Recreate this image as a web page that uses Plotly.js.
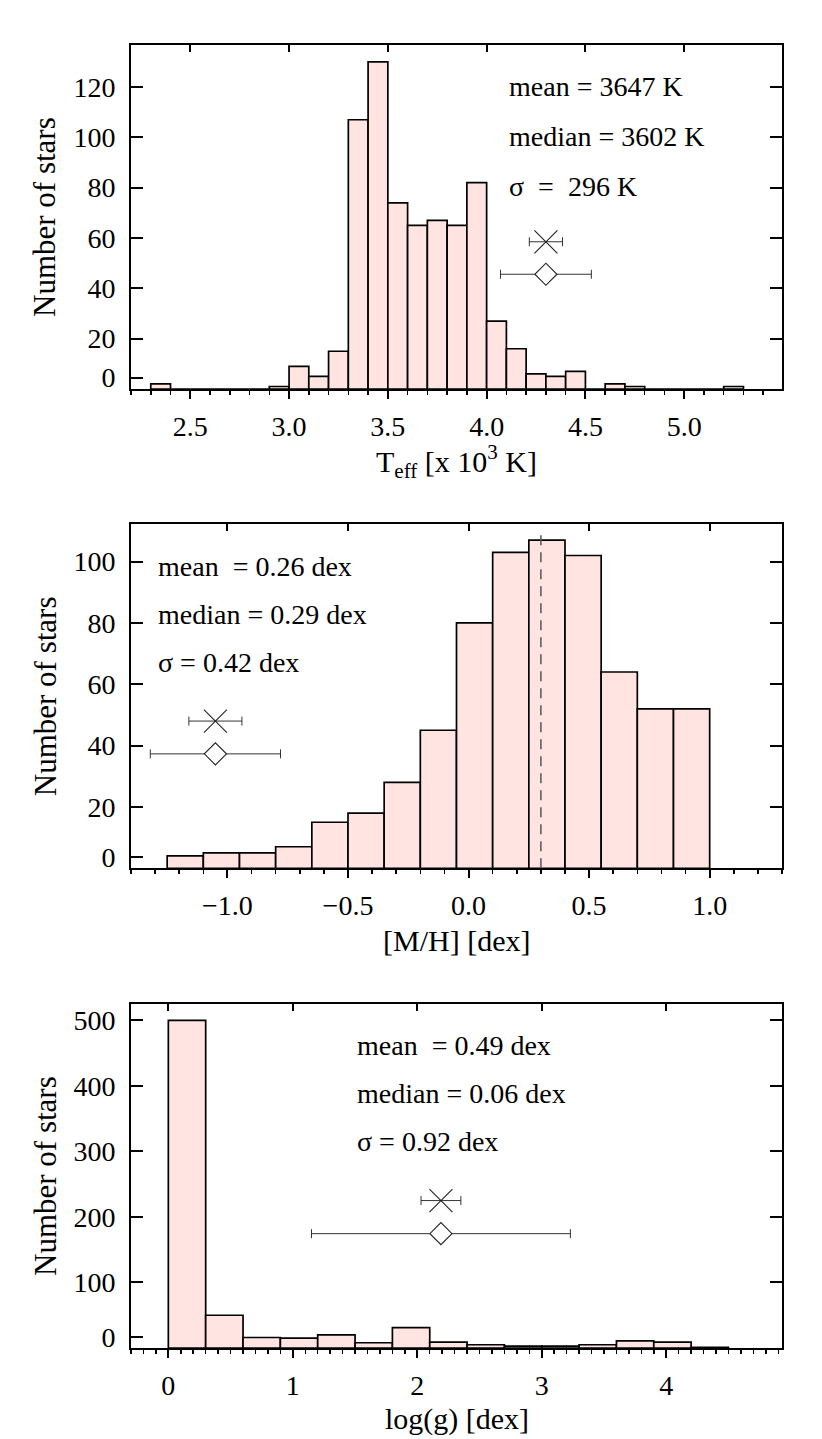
<!DOCTYPE html>
<html><head><meta charset="utf-8">
<script src="https://cdn.plot.ly/plotly-3.0.1.min.js"></script>
<style>html,body{margin:0;padding:0;background:#fff}#chart{width:822px;height:1439px}</style>
</head><body><div id="chart"></div>
<script>
// ---- Panel 1: Teff histogram (x 10^3 K), bin width 0.1 ----
const teffBinStart = [2.3,2.4,2.5,2.6,2.7,2.8,2.9,3.0,3.1,3.2,3.3,3.4,3.5,3.6,3.7,3.8,3.9,4.0,4.1,4.2,4.3,4.4,4.5,4.6,4.7,4.8,4.9,5.0,5.1,5.2];
const teffCounts   = [2,0,0,0,0,0,1,9,5,15,107,130,74,65,67,65,82,27,16,6,5,7,0,2,1,0,0,0,0,1];
const teffBinWidth = 0.1;
const teffStats = ["mean = 3647 K", "median = 3602 K", "\u03c3\u00a0\u00a0=\u00a0\u00a0296 K"];
const teffCross   = {x: 4.30, y: 58.5, err: 0.084};
const teffDiamond = {x: 4.30, y: 45.6, err: 0.23};

// ---- Panel 2: [M/H] histogram, bin width 0.15 ----
const mhBinStart = [-1.25,-1.10,-0.95,-0.80,-0.65,-0.50,-0.35,-0.20,-0.05,0.10,0.25,0.40,0.55,0.70,0.85];
const mhCounts   = [4,5,5,7,15,18,28,45,80,103,107,102,64,52,52];
const mhBinWidth = 0.15;
const mhStats = ["mean\u00a0\u00a0= 0.26 dex", "median = 0.29 dex", "\u03c3 = 0.42 dex"];
const mhCross   = {x: -1.05, y: 48.0, err: 0.11};
const mhDiamond = {x: -1.05, y: 37.3, err: 0.27};
const mhMedianLine = {x: 0.30, yTop: 110.5};

// ---- Panel 3: log(g) histogram, bin width 0.3 ----
const loggBinStart = [0.0,0.3,0.6,0.9,1.2,1.5,1.8,2.1,2.4,2.7,3.0,3.3,3.6,3.9,4.2];
const loggCounts   = [500,50,16,15,20,8,31,9,5,3,3,5,11,9,1];
const loggBinWidth = 0.3;
const loggStats = ["mean\u00a0\u00a0= 0.49 dex", "median = 0.06 dex", "\u03c3 = 0.92 dex"];
const loggCross   = {x: 2.19, y: 225, err: 0.16};
const loggDiamond = {x: 2.19, y: 174.5, err: 1.04};

// tick labels
const teffYTicks = [20,40,60,80,100,120];
const mhYTicks   = [20,40,60,80,100];
const loggYTicks = [100,200,300,400,500];

const FONT = "Liberation Serif, Times New Roman, serif";
const fill = "rgb(255,228,225)";

const panels = [
  {bins: teffBinStart, counts: teffCounts, w: teffBinWidth, cross: teffCross, dia: teffDiamond,
   stats: teffStats, yticks: teffYTicks, zeroPos: 4.5, xr: [2.2, 5.495], yr: [0, 136.7], dtick: 0.5,
   tickformat: ".1f", title: "T<sub>eff</sub> [x 10<sup>3</sup> K]", statX: 0.5776, statY: [0.879,0.734,0.589],
   titleY: -0.212, dom: [0.7360, 1.0]},
  {bins: mhBinStart, counts: mhCounts, w: mhBinWidth, cross: mhCross, dia: mhDiamond,
   stats: mhStats, yticks: mhYTicks, zeroPos: 3.6, xr: [-1.4, 1.3], yr: [0, 112.2], dtick: 0.5,
   tickformat: ".1f", title: "[M/H] [dex]", statX: 0.038, statY: [0.877,0.737,0.597],
   titleY: -0.210, dom: [0.3682, 0.6322]},
  {bins: loggBinStart, counts: loggCounts, w: loggBinWidth, cross: loggCross, dia: loggDiamond,
   stats: loggStats, yticks: loggYTicks, zeroPos: 17, xr: [-0.3, 4.93], yr: [0, 525], dtick: 1,
   tickformat: "d", title: "log(g) [dex]", statX: 0.344, statY: [0.880,0.739,0.600],
   titleY: -0.205, dom: [0.0, 0.2640]}
];

const data = [];
const layout = {
  width: 822, height: 1439,
  margin: {l: 131, r: 40, t: 45, b: 91},
  paper_bgcolor: "#fff", plot_bgcolor: "#fff",
  showlegend: false,
  font: {family: FONT, color: "#000", size: 28},
  annotations: [], shapes: []
};

panels.forEach((p, i) => {
  const n = i + 1;
  const xa = "x" + n, ya = "y" + n;
  const xk = "xaxis" + n, yk = "yaxis" + n;
  const xt = "x" + (n + 3), yr_ = "y" + (n + 3);
  const xtk = "xaxis" + (n + 3), yrk = "yaxis" + (n + 3);

  data.push({type: "bar", x: p.bins, y: p.counts, width: p.w, offset: 0,
    xaxis: xa, yaxis: ya, marker: {color: fill, line: {color: "#000", width: 1.7}},
    hoverinfo: "skip"});
  data.push({type: "scatter", mode: "markers", x: [p.cross.x], y: [p.cross.y], xaxis: xa, yaxis: ya,
    error_x: {type: "data", array: [p.cross.err], color: "#333", thickness: 1, width: 4.5},
    marker: {symbol: "x-thin", size: 23, color: "#222", line: {width: 1.1, color: "#222"}}, hoverinfo: "skip"});
  data.push({type: "scatter", mode: "markers", x: [p.dia.x], y: [p.dia.y], xaxis: xa, yaxis: ya,
    error_x: {type: "data", array: [p.dia.err], color: "#333", thickness: 1, width: 4.5},
    marker: {symbol: "diamond", size: 17, color: "#fff", line: {width: 1.1, color: "#222"}}, hoverinfo: "skip"});
  // empty traces so the mirror axes are drawn
  data.push({type: "scatter", x: [], y: [], xaxis: xt, yaxis: ya, hoverinfo: "skip"});
  data.push({type: "scatter", x: [], y: [], xaxis: xa, yaxis: yr_, hoverinfo: "skip"});

  const tf = {family: FONT, size: 28, color: "#000"};
  layout[xk] = {domain: [0, 1], anchor: ya, range: p.xr, autorange: false,
    showline: true, linewidth: 2, linecolor: "#000", mirror: false,
    ticks: "outside", ticklen: 8, tickwidth: 2, tickcolor: "#000",
    tick0: 0, dtick: p.dtick, tickformat: p.tickformat, tickfont: tf,
    minor: {ticks: "outside", ticklen: 4, tickwidth: 1.5, tickcolor: "#000", tick0: 0, dtick: 0.1, showgrid: false},
    showgrid: false, zeroline: false, ticklabelstandoff: 3};
  layout[xtk] = {overlaying: xa, side: "top", anchor: ya, range: p.xr, autorange: false,
    showline: true, linewidth: 2, linecolor: "#000",
    ticks: "inside", ticklen: 7, tickwidth: 2, tickcolor: "#000",
    tick0: 0, dtick: p.dtick, showticklabels: false, showgrid: false, zeroline: false};
  layout[yk] = {domain: p.dom, anchor: xa, range: p.yr, autorange: false,
    showline: true, linewidth: 2, linecolor: "#000", mirror: false,
    ticks: "inside", ticklen: 12, tickwidth: 2, tickcolor: "#000",
    tickmode: "array", tickvals: [p.zeroPos].concat(p.yticks),
    ticktext: ["0"].concat(p.yticks.map(String)), tickfont: tf,
    showgrid: false, zeroline: false, ticklabelstandoff: 8};
  layout[yrk] = {overlaying: ya, side: "right", anchor: xa, range: p.yr, autorange: false,
    showline: true, linewidth: 2, linecolor: "#000",
    ticks: "inside", ticklen: 12, tickwidth: 2, tickcolor: "#000",
    tickmode: "array", tickvals: p.yticks, showticklabels: false, showgrid: false, zeroline: false};

  p.stats.forEach((s, k) => {
    layout.annotations.push({text: s, xref: xa + " domain", yref: ya + " domain",
      x: p.statX, y: p.statY[k], xanchor: "left", yanchor: "middle", showarrow: false,
      font: {family: FONT, size: 28, color: "#000"}});
  });
  layout.annotations.push({text: "Number of stars", xref: "paper", yref: ya + " domain",
    x: -0.1321, y: 0.5, textangle: -90, xanchor: "center", yanchor: "middle", showarrow: false,
    font: {family: FONT, size: 31, color: "#000"}});
  layout.annotations.push({text: p.title, xref: xa + " domain", yref: ya + " domain",
    x: 0.5, y: p.titleY, xanchor: "center", yanchor: "middle", showarrow: false,
    font: {family: FONT, size: 30, color: "#000"}});
});

layout.shapes.push({type: "line", xref: "x2", yref: "y2", x0: mhMedianLine.x, x1: mhMedianLine.x,
  y0: 0, y1: mhMedianLine.yTop, line: {color: "#555", width: 1.5, dash: "10px,7px"}});

Plotly.newPlot("chart", data, layout, {staticPlot: true, displayModeBar: false});
</script>
</body></html>
